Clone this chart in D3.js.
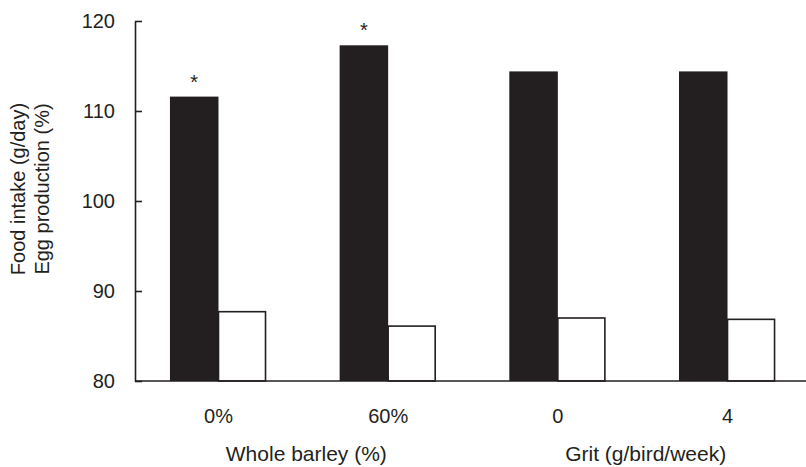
<!DOCTYPE html>
<html>
<head>
<meta charset="utf-8">
<script src="https://cdn.jsdelivr.net/npm/d3@7"></script>
<style>
  html, body { margin: 0; padding: 0; background: #fff; }
  svg { display: block; }
  text { font-family: "Liberation Sans", Arial, sans-serif; fill: #231f20; }
</style>
</head>
<body>
<svg id="chart" width="806" height="467"></svg>
<script>
const categories = ["0%", "60%", "0", "4"];
const groupLabels = ["Whole barley (%)", "Grit (g/bird/week)"];
const groupOf = [0, 0, 1, 1];
const foodIntake = [111.6, 117.3, 114.4, 114.4];
const eggProduction = [87.7, 86.1, 87.0, 86.85];
const significant = [true, true, false, false];
const yTicks = [80, 90, 100, 110, 120];
const yLabelLines = ["Food intake (g/day)", "Egg production (%)"];
const seriesKeys = ["food", "egg"];

const ink = "#231f20";
const svg = d3.select("#chart");

const x = d3.scaleBand().domain(categories).range([135, 811])
  .paddingInner(0.428).paddingOuter(0.206);
const xs = d3.scaleBand().domain(seriesKeys).range([0, x.bandwidth()]);
const y = d3.scaleLinear().domain([80, 120]).range([381, 21]);

const rows = categories.map((c, i) => ({cat: c, food: foodIntake[i], egg: eggProduction[i], sig: significant[i]}));

// bars
const g = svg.append("g");
rows.forEach(r => {
  g.append("rect")
    .attr("x", x(r.cat) + xs("food"))
    .attr("y", y(r.food))
    .attr("width", xs.bandwidth())
    .attr("height", y(80) - y(r.food))
    .attr("fill", ink);
  g.append("rect")
    .attr("x", x(r.cat) + xs("egg"))
    .attr("y", y(r.egg))
    .attr("width", xs.bandwidth() - 1.5)
    .attr("height", y(80) - y(r.egg))
    .attr("fill", "#fff")
    .attr("stroke", ink)
    .attr("stroke-width", 1.6);
  if (r.sig) {
    g.append("text")
      .attr("x", x(r.cat) + xs("food") + xs.bandwidth() / 2)
      .attr("y", y(r.food) - 8)
      .attr("text-anchor", "middle")
      .attr("font-size", 20)
      .text("*");
  }
});

// y axis
const yAxis = svg.append("g").attr("transform", "translate(135,0)")
  .call(d3.axisLeft(y).tickValues(yTicks).tickSizeInner(-7).tickSizeOuter(0).tickPadding(20));
yAxis.select(".domain").attr("stroke", ink).attr("stroke-width", 1.6);
yAxis.selectAll(".tick line").attr("stroke", ink).attr("stroke-width", 1.6);
yAxis.selectAll(".tick text").attr("font-size", 20).attr("font-family", "Liberation Sans, Arial, sans-serif").attr("fill", ink);

// x axis line
svg.append("line")
  .attr("x1", 135).attr("x2", 806)
  .attr("y1", y(80)).attr("y2", y(80))
  .attr("stroke", ink).attr("stroke-width", 1.6);

// category labels
categories.forEach(c => {
  svg.append("text")
    .attr("x", x(c) + xs("egg"))
    .attr("y", 423)
    .attr("text-anchor", "middle")
    .attr("font-size", 20)
    .text(c);
});

// group labels
groupLabels.forEach((lab, gi) => {
  const cats = categories.filter((c, i) => groupOf[i] === gi);
  const cx = d3.mean(cats, c => x(c) + xs("egg"));
  svg.append("text")
    .attr("x", cx + 3)
    .attr("y", 461)
    .attr("text-anchor", "middle")
    .attr("font-size", 21)
    .text(lab);
});

// y label
yLabelLines.forEach((t, i) => {
  svg.append("text")
    .attr("transform", `translate(${25 + i * 24},189) rotate(-90)`)
    .attr("text-anchor", "middle")
    .attr("font-size", 20)
    .text(t);
});
</script>
</body>
</html>
